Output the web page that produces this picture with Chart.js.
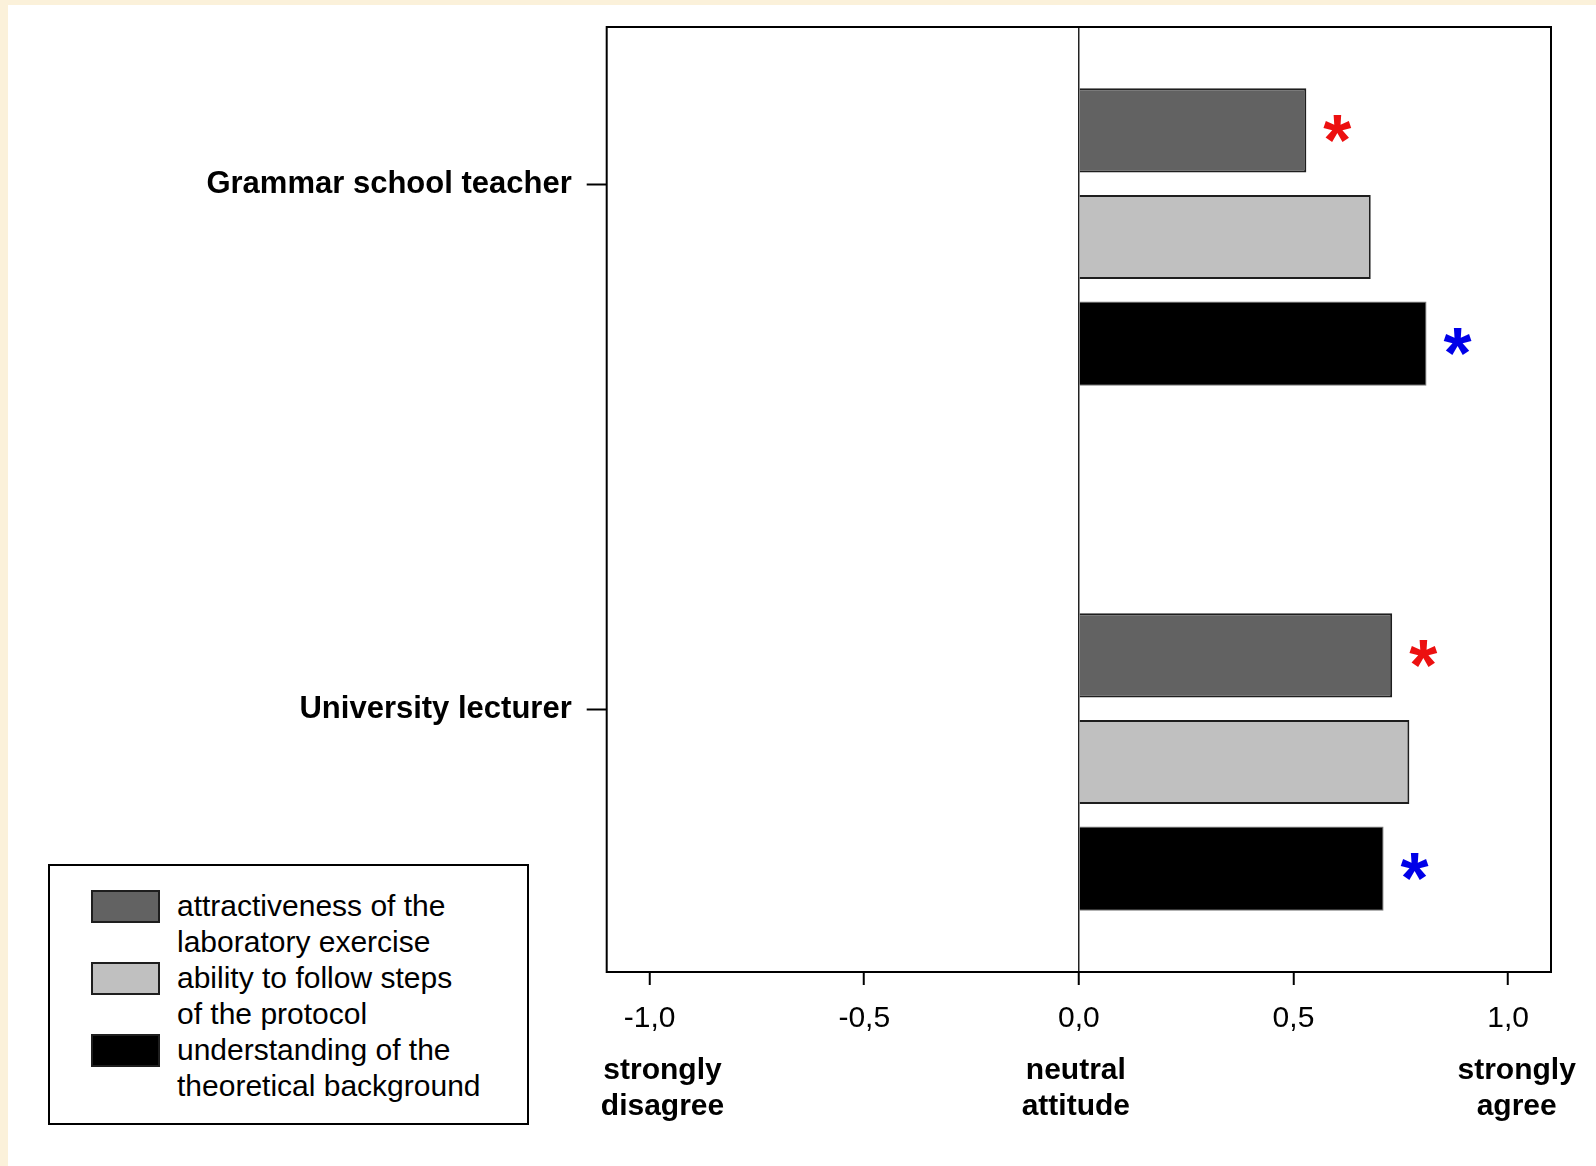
<!DOCTYPE html>
<html>
<head>
<meta charset="utf-8">
<script src="https://cdn.jsdelivr.net/npm/chart.js@4/dist/chart.umd.min.js"></script>
<style>
body{margin:0;background:#fbf1da;width:1596px;height:1166px;overflow:hidden;font-family:'Liberation Sans',Arial,sans-serif;}
#wrap{position:absolute;left:8px;top:5px;width:1588px;height:1161px;background:#fff;}
#legend{position:absolute;left:40px;top:859px;width:477px;height:257px;border:2px solid #000;background:#fff;}
#legend .item{position:absolute;left:0;width:100%;height:72px;}
#legend .sw{position:absolute;left:41px;top:2px;width:69px;height:33px;box-sizing:border-box;border:2px solid #1e1e1e;}
#legend .txt{position:absolute;left:127px;top:0;font-size:30px;line-height:36px;color:#000;white-space:nowrap;}
</style>
</head>
<body>
<div id="wrap">
  <canvas id="attChart"></canvas>
  <div id="legend"></div>
</div>
<script>
var groups = ['Grammar school teacher', 'University lecturer'];
var groupPos = [1, 2];
var seriesLabels = ['attractiveness of the laboratory exercise', 'ability to follow steps of the protocol', 'understanding of the theoretical background'];
var legendLines = [['attractiveness of the', 'laboratory exercise'], ['ability to follow steps', 'of the protocol'], ['understanding of the', 'theoretical background']];
var attractiveness = [0.53, 0.73];
var followSteps = [0.68, 0.77];
var understanding = [0.81, 0.71];
var attractivenessMarks = ['*', '*'];
var understandingMarks = ['*', '*'];
var xTickValues = [-1, -0.5, 0, 0.5, 1];
var xTickLabels = ['-1,0', '-0,5', '0,0', '0,5', '1,0'];
// the scale captions sit a little off their ticks in the original
var anchorValues = [-0.97, -0.007, 1.02];
var anchorLabels = [['strongly', 'disagree'], ['neutral', 'attitude'], ['strongly', 'agree']];

var fills = ['#626262', '#c0c0c0', '#000000'];
var borders = ['#1e1e1e', '#1e1e1e', '#777777'];

Chart.defaults.font.family = "'Liberation Sans', Arial, sans-serif";
Chart.defaults.color = '#000';

function toPoints(vals){
    return groupPos.map(function(p, i){ return {x: vals[i], y: p}; });
}

var marks = [
    {dataset: 0, list: attractivenessMarks, color: '#ec1010'},
    {dataset: 2, list: understandingMarks, color: '#0000e8'}
];

var sigPlugin = {
    id: 'sig',
    afterDatasetsDraw: function(chart){
        var ctx = chart.ctx;
        ctx.save();
        ctx.font = "bold 72px 'Liberation Sans', Arial, sans-serif";
        ctx.textAlign = 'center';
        ctx.textBaseline = 'alphabetic';
        var m = ctx.measureText('*');
        var shift = (m.actualBoundingBoxAscent - m.actualBoundingBoxDescent) / 2;
        marks.forEach(function(mk){
            var meta = chart.getDatasetMeta(mk.dataset);
            ctx.fillStyle = mk.color;
            meta.data.forEach(function(el, i){
                if (!mk.list[i]) return;
                ctx.fillText(mk.list[i], el.x + 31, el.y + shift - 2);
            });
        });
        ctx.restore();
    }
};

var framePlugin = {
    id: 'frame',
    afterDraw: function(chart){
        var a = chart.chartArea;
        var ctx = chart.ctx;
        ctx.save();
        ctx.strokeStyle = '#000';
        ctx.lineWidth = 2;
        ctx.strokeRect(a.left, a.top, a.right - a.left, a.bottom - a.top);
        ctx.restore();
    }
};

var chart = new Chart(document.getElementById('attChart'), {
    type: 'bar',
    data: {
        datasets: [
            {label: seriesLabels[0], data: toPoints(attractiveness), backgroundColor: fills[0], borderColor: borders[0], borderWidth: 2},
            {label: seriesLabels[1], data: toPoints(followSteps), backgroundColor: fills[1], borderColor: borders[1], borderWidth: 2},
            {label: seriesLabels[2], data: toPoints(understanding), backgroundColor: fills[2], borderColor: borders[2], borderWidth: 1}
        ]
    },
    options: {
        indexAxis: 'y',
        responsive: true,
        maintainAspectRatio: false,
        animation: false,
        categoryPercentage: 0.609,
        barPercentage: 0.79,
        layout: {padding: {top: 22, right: 45, bottom: 41, left: 0}},
        plugins: {legend: {display: false}, tooltip: {enabled: false}},
        scales: {
            x: {
                type: 'linear', position: 'bottom', weight: 0,
                min: -1.1, max: 1.1,
                afterBuildTicks: function(s){ s.ticks = xTickValues.map(function(v){ return {value: v}; }); },
                afterFit: function(s){ s.height = 65; },
                grid: {
                    color: function(c){ return c.tick && c.tick.value === 0 ? '#222' : 'rgba(0,0,0,0)'; },
                    lineWidth: 1.5,
                    tickColor: '#000', tickWidth: 2, tickLength: 13
                },
                border: {display: false},
                ticks: {
                    padding: 16,
                    maxRotation: 0,
                    font: {size: 30},
                    callback: function(v, i){ return xTickLabels[i]; }
                }
            },
            x2: {
                type: 'linear', position: 'bottom', weight: 1,
                min: -1.1, max: 1.1,
                afterBuildTicks: function(s){ s.ticks = anchorValues.map(function(v){ return {value: v}; }); },
                afterFit: function(s){ s.height = 88; },
                grid: {display: false, drawTicks: false},
                border: {display: false},
                ticks: {
                    padding: 16,
                    maxRotation: 0,
                    font: {size: 30, weight: 'bold'},
                    callback: function(v, i){ return anchorLabels[i]; }
                }
            },
            y: {
                type: 'linear', reverse: true,
                min: 0.6, max: 2.4,
                offset: false,
                afterBuildTicks: function(s){ s.ticks = groupPos.map(function(p){ return {value: p - 0.1}; }); },
                afterFit: function(s){ s.width = 598.7; s.paddingTop = 0; s.paddingBottom = 0; },
                grid: {offset: false, drawOnChartArea: false, tickColor: '#000', tickWidth: 2, tickLength: 20},
                border: {display: false},
                ticks: {
                    padding: 15,
                    font: {size: 31, weight: 'bold'},
                    callback: function(v, i){ return groups[i]; }
                }
            }
        }
    },
    plugins: [sigPlugin, framePlugin]
});

var legend = document.getElementById('legend');
legendLines.forEach(function(lines, i){
    var item = document.createElement('div');
    item.className = 'item';
    item.style.top = (22 + i * 72) + 'px';
    var sw = document.createElement('div');
    sw.className = 'sw';
    sw.style.background = fills[i];
    var txt = document.createElement('div');
    txt.className = 'txt';
    txt.innerHTML = lines.join('<br>');
    item.appendChild(sw);
    item.appendChild(txt);
    legend.appendChild(item);
});
</script>
</body>
</html>
